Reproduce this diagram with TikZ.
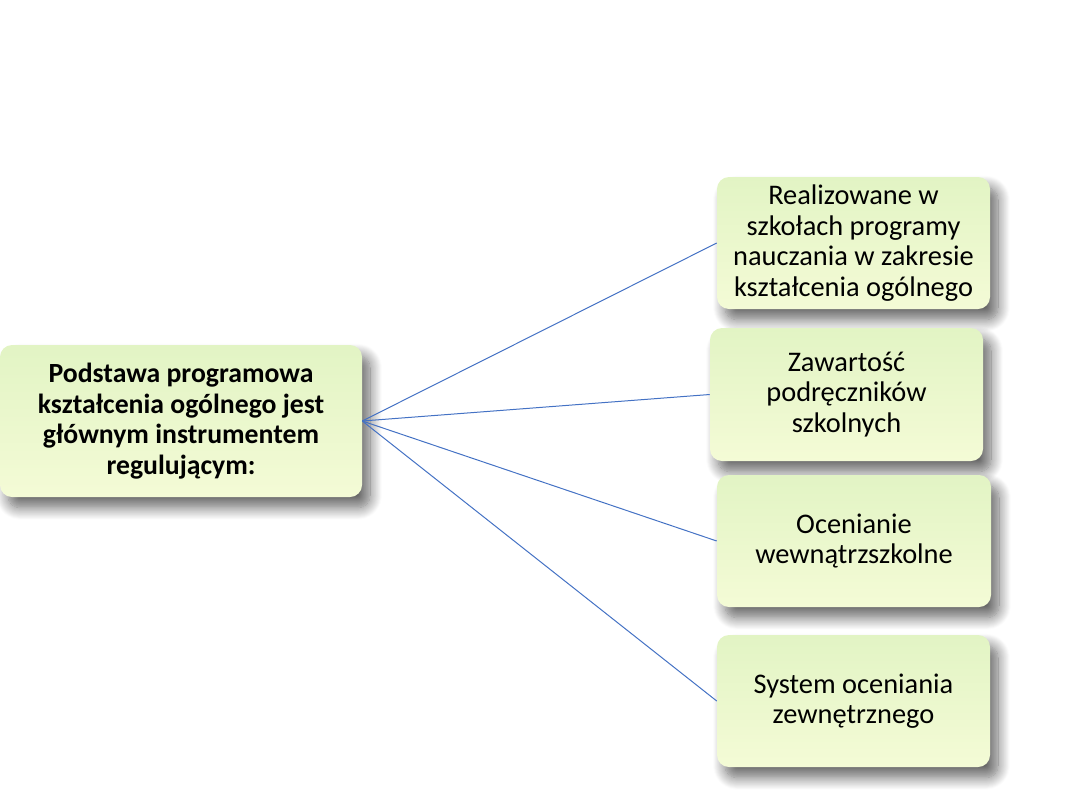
\documentclass[tikz,border=0pt]{standalone}
\usepackage{fontspec}
\setmainfont{Carlito}
\usetikzlibrary{shadows.blur}
\definecolor{boxtop}{RGB}{226,244,196}
\definecolor{boxbot}{RGB}{244,251,214}
\definecolor{linkblue}{RGB}{68,114,196}
\tikzset{
  greenbox/.style={rounded corners=9pt, top color=boxtop, bottom color=boxbot,
    draw=none, align=center, inner sep=2pt,
    font=\fontsize{21.3pt}{23pt}\selectfont,
    blur shadow={shadow xshift=6pt, shadow yshift=-8pt, shadow blur radius=9pt, shadow blur steps=14, shadow opacity=60}},
  link/.style={draw=linkblue, line width=0.75pt}
}
\begin{document}
\begin{tikzpicture}[x=0.75pt,y=-0.75pt]
\useasboundingbox (0,0) rectangle (1080,810);
\node[greenbox, minimum width=271.5pt, minimum height=114pt, font=\fontsize{20.8pt}{23pt}\selectfont\bfseries] (main) at (181,421)
  {Podstawa programowa\\kształcenia ogólnego jest\\głównym instrumentem\\regulującym:};
\node[greenbox, minimum width=204.75pt, minimum height=99pt] (b1) at (853.5,243)
  {Realizowane w\\szkołach programy\\nauczania w zakresie\\kształcenia ogólnego};
\node[greenbox, minimum width=204.75pt, minimum height=99.75pt] (b2) at (846.5,394.5)
  {Zawartość\\podręczników\\szkolnych};
\node[greenbox, minimum width=205.5pt, minimum height=99pt] (b3) at (854,541)
  {Ocenianie\\wewnątrzszkolne};
\node[greenbox, minimum width=204.75pt, minimum height=99pt] (b4) at (853.5,701)
  {System oceniania\\zewnętrznego};
\draw[link] (main.east) -- (b1.west);
\draw[link] (main.east) -- (b2.west);
\draw[link] (main.east) -- (b3.west);
\draw[link] (main.east) -- (b4.west);
\end{tikzpicture}
\end{document}
